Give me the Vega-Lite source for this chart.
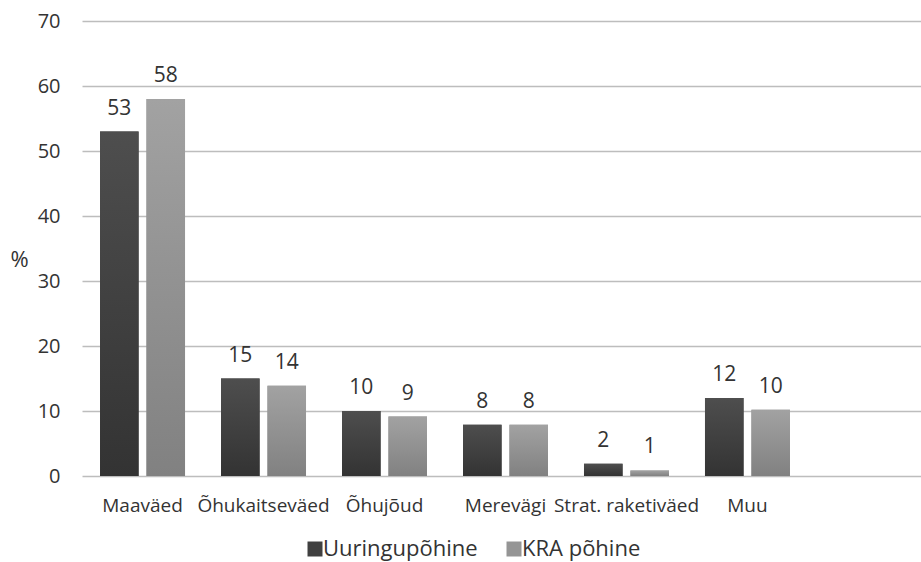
{
  "$schema": "https://vega.github.io/schema/vega-lite/v6.json",
  "width": 839,
  "height": 455,
  "autosize": {"type": "none"},
  "padding": {"left": 82, "top": 21, "right": 0, "bottom": 86},
  "background": "white",
  "config": {
    "view": {"stroke": null},
    "font": "Open Sans",
    "axis": {"labelFont": "Open Sans", "titleFont": "Open Sans", "labelColor": "#333333", "titleColor": "#333333"},
    "legend": {"labelFont": "Open Sans", "labelColor": "#333333"}
  },
  "data": {
    "values": [
      {"category": "Maaväed", "series": "Uuringupõhine", "value": 53},
      {"category": "Maaväed", "series": "KRA põhine", "value": 58},
      {"category": "Õhukaitseväed", "series": "Uuringupõhine", "value": 15},
      {"category": "Õhukaitseväed", "series": "KRA põhine", "value": 13.9},
      {"category": "Õhujõud", "series": "Uuringupõhine", "value": 10},
      {"category": "Õhujõud", "series": "KRA põhine", "value": 9.15},
      {"category": "Merevägi", "series": "Uuringupõhine", "value": 7.9},
      {"category": "Merevägi", "series": "KRA põhine", "value": 7.9},
      {"category": "Strat. raketiväed", "series": "Uuringupõhine", "value": 1.9},
      {"category": "Strat. raketiväed", "series": "KRA põhine", "value": 0.85},
      {"category": "Muu", "series": "Uuringupõhine", "value": 12},
      {"category": "Muu", "series": "KRA põhine", "value": 10.2}
    ]
  },
  "encoding": {
    "x": {
      "field": "category",
      "type": "nominal",
      "sort": null,
      "scale": {
        "domain": ["Maaväed", "Õhukaitseväed", "Õhujõud", "Merevägi", "Strat. raketiväed", "Muu", " "],
        "range": [0, 847],
        "paddingInner": 0.2975,
        "paddingOuter": 0.149
      },
      "axis": {
        "title": null,
        "labelAngle": 0,
        "domain": false,
        "ticks": false,
        "labelPadding": 20,
        "labelFontSize": 19,
        "labelBaseline": "top"
      }
    },
    "xOffset": {
      "field": "series",
      "type": "nominal",
      "sort": ["Uuringupõhine", "KRA põhine"],
      "scale": {"paddingInner": 0.17, "paddingOuter": 0}
    },
    "y": {
      "field": "value",
      "type": "quantitative",
      "scale": {"domain": [0, 70], "nice": false},
      "axis": {
        "values": [0, 10, 20, 30, 40, 50, 60, 70],
        "title": "%",
        "titleAngle": 0,
        "titleFontSize": 22,
        "titleFontWeight": "normal",
        "titleX": -63,
        "titleY": 245,
        "titleAlign": "center",
        "titleBaseline": "alphabetic",
        "domain": false,
        "ticks": false,
        "labelPadding": 22,
        "labelFontSize": 20,
        "gridColor": "#bdbdbd",
        "gridWidth": 1.5
      }
    }
  },
  "layer": [
    {
      "mark": {"type": "bar"},
      "encoding": {
        "color": {
          "field": "series",
          "type": "nominal",
          "scale": {"domain": ["Uuringupõhine", "KRA põhine"], "range": ["#404040", "#959595"]},
          "legend": {
            "title": null,
            "orient": "none",
            "legendX": 222,
            "legendY": 517,
            "direction": "horizontal",
            "symbolType": "square",
            "symbolSize": 225,
            "symbolStrokeWidth": 0,
            "labelFontSize": 22,
            "labelOffset": -3,
            "labelLimit": 300,
            "columnPadding": 25
          }
        }
      }
    },
    {
      "mark": {"type": "bar"},
      "encoding": {
        "fill": {
          "condition": {
            "test": "datum.series === 'Uuringupõhine'",
            "value": {"gradient": "linear", "x1": 0, "y1": 0, "x2": 0, "y2": 1, "stops": [{"offset": 0, "color": "#4e4e4e"}, {"offset": 1, "color": "#333333"}]}
          },
          "value": {"gradient": "linear", "x1": 0, "y1": 0, "x2": 0, "y2": 1, "stops": [{"offset": 0, "color": "#a2a2a2"}, {"offset": 1, "color": "#818181"}]}
        }
      }
    },
    {
      "mark": {"type": "text", "dy": -17, "baseline": "alphabetic", "fontSize": 21, "color": "#333333"},
      "encoding": {
        "text": {"field": "value", "type": "quantitative", "format": ".0f"}
      }
    }
  ]
}
